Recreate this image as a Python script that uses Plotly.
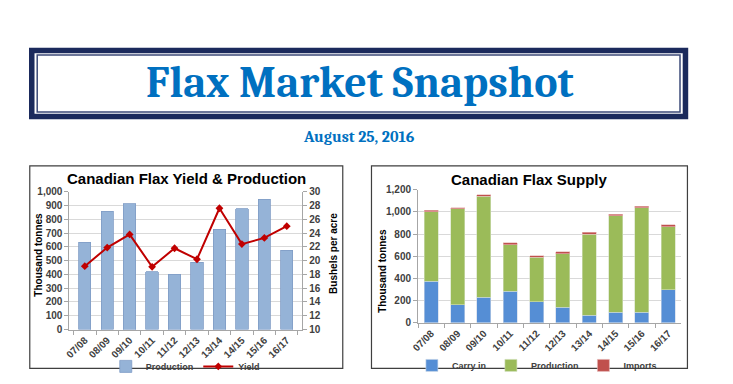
import plotly.graph_objects as go

W, H = 733, 384


def px(x):
    return x / W


def py(y):
    return 1 - y / H


# ---------------- data ----------------
categories = ["07/08", "08/09", "09/10", "10/11", "11/12", "12/13", "13/14", "14/15", "15/16", "16/17"]
production = [632, 859, 913, 421, 400, 489, 728, 876, 946, 574]
yield_bpa = [19.2, 21.9, 23.8, 19.1, 21.8, 20.2, 27.6, 22.4, 23.3, 25.0]
supply_carry_in = [373, 163, 230, 285, 192, 140, 70, 93, 93, 300]
supply_production = [629, 865, 912, 420, 399, 483, 728, 871, 944, 568]
supply_imports = [12, 9, 11, 15, 12, 18, 20, 15, 15, 17]

SANS = "Arial, 'Liberation Sans', sans-serif"
SERIF = "Cambria, 'Liberation Serif', serif"
TICKFONT = dict(family=SANS, size=10, color="#404040", weight="bold")
GRID = "#D9D9D9"
AXIS = "#A6A6A6"

fig = go.Figure()

# ---- left chart ----
fig.add_trace(go.Bar(
    x=categories, y=production, name="Production", width=0.55,
    marker=dict(color="#95B3D7", line=dict(color="#7F9CC6", width=0.8)),
    xaxis="x", yaxis="y", legend="legend",
))
fig.add_trace(go.Scatter(
    x=categories, y=yield_bpa, name="Yield", mode="lines+markers",
    line=dict(color="#C00000", width=2),
    marker=dict(symbol="diamond", size=6, color="#C00000"),
    xaxis="x", yaxis="y2", legend="legend",
))

# ---- right chart ----
fig.add_trace(go.Bar(
    x=categories, y=supply_carry_in, name="Carry in", width=0.53,
    marker=dict(color="#558ED5", line=dict(color="#C9D6E8", width=0.6)),
    xaxis="x3", yaxis="y3", legend="legend2",
))
fig.add_trace(go.Bar(
    x=categories, y=supply_production, name="Production", width=0.53,
    marker=dict(color="#9BBB59", line=dict(color="#D2DFBE", width=0.6)),
    xaxis="x3", yaxis="y3", legend="legend2",
))
fig.add_trace(go.Bar(
    x=categories, y=supply_imports, name="Imports", width=0.53,
    marker=dict(color="#C0504D", line=dict(color="#E6B9B8", width=0.6)),
    xaxis="x3", yaxis="y3", legend="legend2",
))

xcommon = dict(type="category", tickangle=-45, tickfont=TICKFONT, showgrid=False,
               showline=True, linecolor=AXIS, linewidth=1, ticks="outside",
               tickson="boundaries", ticklen=4, tickcolor=AXIS)
ycommon = dict(tickfont=TICKFONT, showgrid=True, gridcolor=GRID, gridwidth=1,
               showline=True, linecolor=AXIS, linewidth=1, ticks="outside",
               ticklen=4, tickcolor=AXIS, zeroline=False, tickformat=",")

LEGFONT = dict(family=SANS, size=9, color="#404040", weight="bold")

fig.update_layout(
    width=W, height=H, autosize=False,
    margin=dict(l=0, r=0, t=0, b=0),
    paper_bgcolor="white", plot_bgcolor="white",
    barmode="stack",
    showlegend=True,
    xaxis=dict(domain=[px(63), px(298)], anchor="y", **xcommon),
    yaxis=dict(domain=[py(334), py(191.7)], range=[0, 1000], dtick=100, anchor="x", **ycommon),
    yaxis2=dict(overlaying="y", side="right", range=[10, 30], dtick=2, anchor="x",
                tickfont=TICKFONT, showgrid=False, showline=True, linecolor=AXIS,
                ticks="outside", ticklen=4, tickcolor=AXIS, zeroline=False),
    xaxis3=dict(domain=[px(415), px(681)], anchor="y3", **xcommon),
    yaxis3=dict(domain=[py(327), py(189.7)], range=[0, 1200], dtick=200, anchor="x3", **ycommon),
    legend=dict(orientation="h", x=px(180), y=py(372), xanchor="center", yanchor="middle",
                font=LEGFONT, traceorder="normal",
                bgcolor="rgba(0,0,0,0)", itemwidth=30, tracegroupgap=0),
    legend2=dict(orientation="h", x=px(535), y=py(371), xanchor="center", yanchor="middle",
                 font=LEGFONT, traceorder="normal",
                 bgcolor="rgba(0,0,0,0)", itemwidth=30, tracegroupgap=0),
)

shapes = [
    # header outer thick border
    dict(type="rect", xref="paper", yref="paper", x0=px(25), x1=px(685), y0=py(114), y1=py(46),
         line=dict(color="#1B2A5C", width=5.5)),
    # header inner thin border
    dict(type="rect", xref="paper", yref="paper", x0=px(30.5), x1=px(679.5), y0=py(109.5), y1=py(50.5),
         line=dict(color="#3C4A78", width=1.5)),
    # left chart frame
    dict(type="rect", xref="paper", yref="paper", x0=px(23), x1=px(339), y0=py(374), y1=py(165),
         line=dict(color="#3F3F3F", width=1.2)),
    # right chart frame
    dict(type="rect", xref="paper", yref="paper", x0=px(368), x1=px(687), y0=py(374), y1=py(165),
         line=dict(color="#3F3F3F", width=1.2)),
]
fig.update_layout(shapes=shapes)

annotations = [
    dict(text="Flax Market Snapshot", x=px(356), y=py(79), xref="paper", yref="paper",
         showarrow=False, xanchor="center", yanchor="middle",
         font=dict(family=SERIF, size=44, color="#0070C0", weight="bold")),
    dict(text="August 25, 2016", x=px(355), y=py(135), xref="paper", yref="paper",
         showarrow=False, xanchor="center", yanchor="middle",
         font=dict(family=SERIF, size=16, color="#0070C0", weight="bold")),
    dict(text="Canadian Flax Yield & Production", x=px(181), y=py(178), xref="paper", yref="paper",
         showarrow=False, xanchor="center", yanchor="middle",
         font=dict(family=SANS, size=15, color="#000000", weight="bold")),
    dict(text="Canadian Flax Supply", x=px(528), y=py(179), xref="paper", yref="paper",
         showarrow=False, xanchor="center", yanchor="middle",
         font=dict(family=SANS, size=15, color="#000000", weight="bold")),
    dict(text="Thousand tonnes", x=px(32), y=py(257), xref="paper", yref="paper", textangle=-90,
         showarrow=False, xanchor="center", yanchor="middle",
         font=dict(family=SANS, size=10, color="#000000", weight="bold")),
    dict(text="Bushels per acre", x=px(329), y=py(255), xref="paper", yref="paper", textangle=-90,
         showarrow=False, xanchor="center", yanchor="middle",
         font=dict(family=SANS, size=10, color="#000000", weight="bold")),
    dict(text="Thousand tonnes", x=px(379), y=py(273), xref="paper", yref="paper", textangle=-90,
         showarrow=False, xanchor="center", yanchor="middle",
         font=dict(family=SANS, size=10, color="#000000", weight="bold")),
]
fig.update_layout(annotations=annotations)

fig.write_html("out.html")
